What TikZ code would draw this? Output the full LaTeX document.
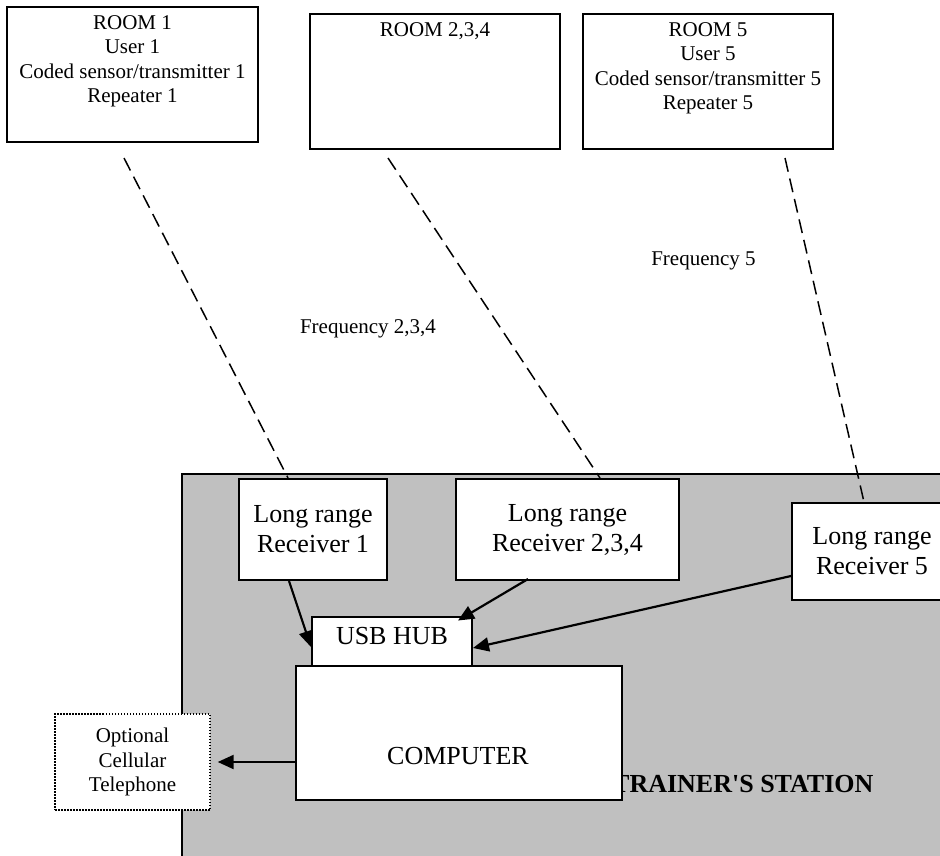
\documentclass[tikz,border=0pt]{standalone}
\usepackage{fontspec}
\newfontfamily\tnr{Liberation Serif}
\usetikzlibrary{arrows.meta,calc}
\definecolor{stationgray}{RGB}{192,192,192}
\begin{document}
\begin{tikzpicture}[x=1pt,y=-1pt,
  small/.style={font=\tnr\fontsize{21}{24.5}\selectfont},
  big/.style={font=\tnr\fontsize{26}{30}\selectfont},
  box/.style={draw, line width=2pt, fill=white, inner sep=0pt},
  txt/.style={inner sep=0pt, align=center},
  radio/.style={line width=1.5pt, dash pattern=on 14pt off 7pt},
  arr/.style={line width=2.2pt, -{Triangle[length=16pt,width=14pt]}}]
\useasboundingbox (0,0) rectangle (940,855);

% trainer's station area
\node[fill=stationgray, draw=black, line width=1.6pt, minimum width=800pt,
      minimum height=420pt, anchor=north west, inner sep=0pt] (station) at (181,473) {};

% frequency labels
\node[small, anchor=base] (f234) at (368,333) {Frequency 2,3,4};
\node[small, anchor=base] (f5) at (703.5,265) {Frequency 5};

% rooms
\node[box, minimum width=251pt, minimum height=135pt] (room1) at (132.5,74.5) {};
\node[box, minimum width=250pt, minimum height=135pt] (room2) at (435,81.5) {};
\node[box, minimum width=250pt, minimum height=135pt] (room5) at (708,81.5) {};
\node[small, txt, anchor=north] (room1txt) at (132.5,15)
  {ROOM 1\\User 1\\Coded sensor/transmitter 1\\Repeater 1};
\node[small, txt, anchor=north] (room2txt) at (435,22) {ROOM 2,3,4};
\node[small, txt, anchor=north] (room5txt) at (708,22)
  {ROOM 5\\User 5\\Coded sensor/transmitter 5\\Repeater 5};

% receivers
\node[box, big, align=center, minimum width=148pt, minimum height=101pt] (rec1)
  at (313,529.5) {Long range\\Receiver 1};
\node[box, big, align=center, minimum width=223pt, minimum height=101pt] (rec2)
  at (567.5,529.5) {Long range\\Receiver 2,3,4};
\node[box, big, align=center, minimum width=160pt, minimum height=97pt] (rec5)
  at (872,551.5) {Long range\\Receiver 5};

% radio links
\coordinate (d1) at (124,158);
\coordinate (d2) at (388,158);
\coordinate (d5) at (785,158);
\draw[radio] (d1) -- ([xshift=-25pt]rec1.north);
\draw[radio] (d2) -- ([xshift=32.5pt]rec2.north);
\draw[radio] (d5) -- ([xshift=-8pt]rec5.north);

% station label, partly covered by the computer
\node[font=\tnr\bfseries\fontsize{26}{30}\selectfont, anchor=base west, inner sep=0pt]
  (stationtxt) at (612,792) {TRAINER'S STATION};

% hub and computer
\node[box, minimum width=160pt, minimum height=49pt] (hub) at (392,641.5) {};
\node[big, anchor=base, inner sep=0pt] (hubtxt) at (392,644) {USB HUB};
\node[box, minimum width=326pt, minimum height=134pt] (computer) at (459,733) {};
\node[big, anchor=base, inner sep=0pt] (comptxt) at (458,764) {COMPUTER};

% optional phone
\node[draw, line width=1.4pt, dash pattern=on 1.5pt off 1.5pt, fill=white,
      minimum width=155pt, minimum height=96pt, small, align=center, inner sep=0pt]
  (phone) at (132.5,762) {Optional\\Cellular\\Telephone};

% wired links
\draw[arr] ([xshift=-24pt]rec1.south) -- ([yshift=-5.5pt]hub.west);
\draw[arr] ([xshift=-39.5pt,yshift=2pt]rec2.south) -- ([xshift=-15pt,yshift=-4.5pt]hub.north east);
\draw[arr] ([yshift=-24.5pt]rec5.west) -- ([yshift=-6.5pt]hub.east);
\draw[arr, shorten >=7pt] (computer.west |- phone.east) -- (phone.east);
\end{tikzpicture}
\end{document}
